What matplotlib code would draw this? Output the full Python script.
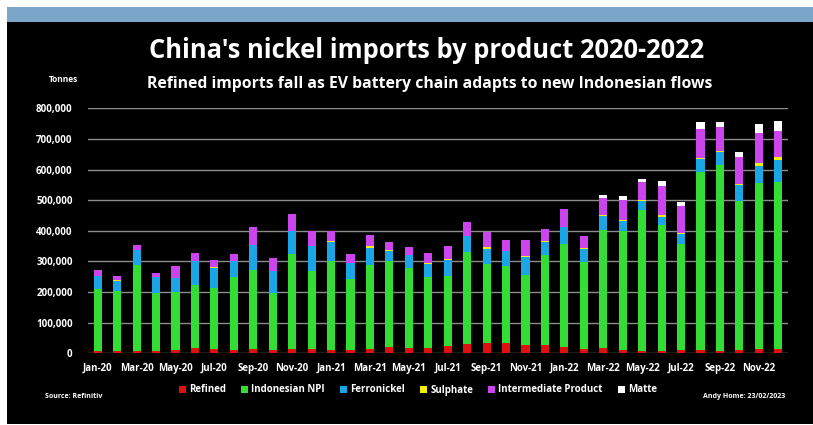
import matplotlib
matplotlib.use("Agg")
import matplotlib.pyplot as plt
from matplotlib.patches import Rectangle, Patch
from matplotlib.ticker import FuncFormatter
import numpy as np

# Monthly China nickel imports by product, tonnes (Jan-2020 .. Dec-2022)
months = ["Jan-20", "Feb-20", "Mar-20", "Apr-20", "May-20", "Jun-20",
          "Jul-20", "Aug-20", "Sep-20", "Oct-20", "Nov-20", "Dec-20",
          "Jan-21", "Feb-21", "Mar-21", "Apr-21", "May-21", "Jun-21",
          "Jul-21", "Aug-21", "Sep-21", "Oct-21", "Nov-21", "Dec-21",
          "Jan-22", "Feb-22", "Mar-22", "Apr-22", "May-22", "Jun-22",
          "Jul-22", "Aug-22", "Sep-22", "Oct-22", "Nov-22", "Dec-22"]

refined = [8, 8, 6, 9, 12, 18, 14, 10, 14, 11, 14, 13,
           12, 10, 13, 20, 18, 17, 23, 32, 34, 34, 27, 27,
           20, 13, 18, 11, 9, 9, 11, 11, 9, 11, 13, 13]
indonesian_npi = [202, 197, 282, 188, 189, 206, 199, 238, 257, 186, 311, 255,
                  288, 233, 276, 281, 262, 232, 228, 298, 258, 250, 230, 295,
                  337, 286, 385, 389, 459, 410, 346, 582, 606, 487, 542, 547]
ferronickel = [41, 32, 48, 52, 45, 76, 65, 55, 83, 73, 73, 84,
               65, 52, 54, 34, 40, 42, 54, 52, 49, 49, 57, 40,
               54, 42, 46, 31, 29, 27, 31, 41, 41, 51, 58, 71]
sulphate = [0, 1, 0, 0, 0, 0, 4, 0, 0, 0, 0, 0,
            3, 0, 6, 2, 2, 3, 2, 2, 6, 2, 5, 4,
            3, 2, 4, 4, 2, 4, 4, 4, 5, 4, 7, 9]
intermediate = [20, 15, 16, 13, 38, 27, 22, 21, 60, 40, 56, 46,
                30, 29, 38, 26, 25, 33, 42, 46, 49, 36, 52, 41,
                57, 40, 53, 65, 59, 96, 89, 93, 77, 87, 98, 86]
matte = [0, 0, 0, 0, 0, 0, 0, 0, 0, 0, 0, 0,
         0, 0, 0, 0, 0, 0, 0, 0, 0, 0, 0, 0,
         0, 0, 11, 15, 10, 18, 14, 25, 18, 16, 31, 32]

series_names = ["Refined", "Indonesian NPI", "Ferronickel", "Sulphate",
                "Intermediate Product", "Matte"]
series_values = [refined, indonesian_npi, ferronickel, sulphate, intermediate, matte]
series_colors = ["#e01010", "#33dd33", "#1aa6e6", "#f2f200", "#cc44ee", "#ffffff"]

title = "China's nickel imports by product 2020-2022"
subtitle = "Refined imports fall as EV battery chain adapts to new Indonesian flows"

W, H = 813, 425
fig = plt.figure(figsize=(W / 100, H / 100), dpi=100)
fig.patch.set_facecolor("white")

# Dark panel with a blue header strip (kept behind everything else)
fig.add_artist(Rectangle((7 / W, 1 / H), 1 - 7 / W, 1 - 23 / H,
                         transform=fig.transFigure, facecolor="black",
                         edgecolor="none", zorder=-10))
fig.add_artist(Rectangle((7 / W, 1 - 22 / H), 1 - 7 / W, 15 / H,
                         transform=fig.transFigure, facecolor="#7ba6c9",
                         edgecolor="none", zorder=-10))

font = "Open Sans"
ax = fig.add_axes([88 / W, (H - 353.3) / H, 700 / W, (353.3 - 108.3) / H])
ax.set_facecolor("none")
ax.set_zorder(5)

x = np.arange(len(months))
bottom = np.zeros(len(months))
for name, vals, col in zip(series_names, series_values, series_colors):
    v = np.array(vals, dtype=float) * 1000
    ax.bar(x, v, width=0.42, bottom=bottom, color=col, label=name,
           zorder=3, linewidth=0)
    bottom += v

ax.set_xlim(-0.5, len(months) - 0.5)
ax.set_ylim(0, 800000)
ax.set_yticks(np.arange(0, 800001, 100000))
ax.yaxis.set_major_formatter(FuncFormatter(lambda v, p: f"{int(v):,}"))
ax.grid(axis="y", color="#8c8c8c", linewidth=1.0, zorder=1)
ax.set_axisbelow(True)
for s in ax.spines.values():
    s.set_visible(False)
ax.tick_params(axis="y", length=0, pad=11, labelcolor="white", labelsize=7)
ax.tick_params(axis="x", length=0, pad=7, labelcolor="white", labelsize=7)
ax.set_xticks(x[::2])
ax.set_xticklabels(months[::2])
for lab in ax.get_xticklabels() + ax.get_yticklabels():
    lab.set_fontfamily(font)
    lab.set_fontweight("bold")

fig.text(0.525, 1 - 50 / H, title, color="white", fontsize=18.4, fontweight="bold",
         family=font, ha="center", va="center")
fig.text(0.529, 1 - 84 / H, subtitle, color="white", fontsize=11.3, fontweight="bold",
         family=font, ha="center", va="center")
fig.text(63 / W, 1 - 79 / H, "Tonnes", color="white", fontsize=6, fontweight="bold",
         family=font, ha="center", va="center")
fig.text(45 / W, 1 - 396 / H, "Source: Refinitiv", color="white", fontsize=5,
         fontweight="bold", family=font, ha="left", va="center")
fig.text(785 / W, 1 - 396 / H, "Andy Home: 23/02/2023", color="white", fontsize=5,
         fontweight="bold", family=font, ha="right", va="center")

handles = [Patch(facecolor=c, edgecolor="none") for c in series_colors]
leg = fig.legend(handles, series_names, loc="center", ncol=6,
                 bbox_to_anchor=(418 / W, 1 - 390 / H), frameon=False,
                 handlelength=0.7, handleheight=0.7, handletextpad=0.3,
                 columnspacing=1.6, prop={"family": font, "weight": "bold", "size": 7})
for t in leg.get_texts():
    t.set_color("white")

fig.savefig("out.png", dpi=100, facecolor=fig.get_facecolor())
